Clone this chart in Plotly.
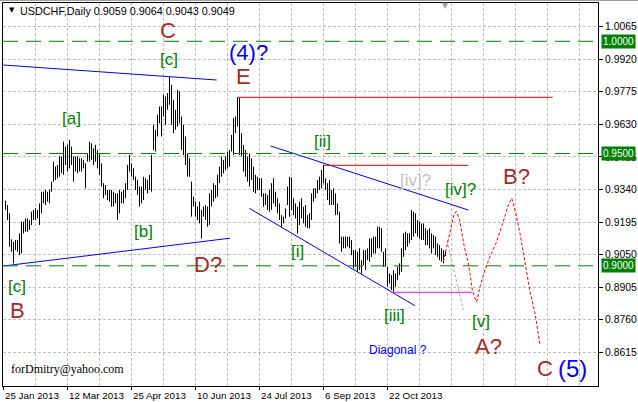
import plotly.graph_objects as go

# ---------------- data ----------------
symbol_header = "USDCHF,Daily 0.9059 0.9064 0.9043 0.9049"

highs = [
    .9290, .9271, .9234, .9118, .9107, .9115, .9115, .9145, .9197, .9197,
    .9211, .9211, .9204, .9241, .9249, .9256, .9249, .9278, .9330, .9330,
    .9338, .9330, .9338, .9375, .9464, .9442, .9449, .9487, .9487, .9553,
    .9531, .9539, .9561, .9531, .9487, .9487, .9487, .9479, .9479, .9472,
    .9457, .9501, .9553, .9546, .9524, .9539, .9516, .9501, .9457, .9368,
    .9360, .9338, .9338, .9338,
    .9330, .9323, .9323, .9338, .9330, .9338, .9368, .9449, .9494, .9457,
    .9435, .9397, .9383, .9353, .9353, .9397, .9390, .9383, .9405, .9494,
    .9628, .9606, .9673, .9710, .9710, .9762, .9754, .9769, .9841, .9806,
    .9739, .9695, .9784, .9777, .9665, .9628, .9576, .9501, .9479, .9375,
    .9308, .9286, .9264, .9286, .9249, .9264, .9271, .9264, .9323, .9338,
    .9368, .9360, .9405, .9442, .9487, .9472,
    .9487, .9509, .9516, .9583, .9658, .9665, .9751, .9747, .9591, .9538,
    .9516, .9487, .9501, .9479, .9442, .9405, .9397, .9390, .9390, .9323,
    .9323, .9316, .9338, .9368, .9390, .9330, .9301, .9278, .9226, .9219,
    .9256, .9353, .9397, .9394, .9301, .9278, .9263, .9286, .9301, .9263,
    .9271, .9226, .9234, .9323, .9345, .9345, .9382, .9397, .9427, .9449,
    .9390, .9368, .9382, .9338, .9345,
    .9323, .9278, .9241, .9130, .9130, .9130, .9130, .9130, .9115, .9070,
    .9070, .9063, .9078, .9025, .9070, .9070, .9078, .9122, .9122, .9130,
    .9130, .9174, .9174, .9167, .9063, .9078, .8996, .8966, .8959, .8981,
    .8966, .8996, .9011, .9078, .9145, .9152, .9145, .9145, .9249, .9241,
    .9234, .9204, .9197, .9189, .9189, .9167, .9159, .9167, .9145, .9137,
    .9130, .9100, .9092, .9078, .9070, .9064,
]
lows = [
    .9249, .9204, .9085, .9063, .9011, .9070, .9063, .9048, .9055, .9145,
    .9152, .9152, .9159, .9182, .9204, .9204, .9211, .9182, .9234, .9278,
    .9271, .9286, .9278, .9330, .9375, .9382, .9390, .9397, .9412, .9405,
    .9449, .9420, .9434, .9449, .9375, .9420, .9412, .9420, .9420, .9434,
    .9345, .9464, .9464, .9472, .9449, .9464, .9434, .9405, .9353, .9301,
    .9315, .9293, .9286, .9263,
    .9264, .9278, .9204, .9234, .9278, .9278, .9301, .9338, .9420, .9397,
    .9383, .9338, .9316, .9264, .9278, .9293, .9338, .9323, .9338, .9330,
    .9516, .9509, .9576, .9635, .9576, .9665, .9628, .9695, .9717, .9628,
    .9591, .9606, .9620, .9635, .9516, .9494, .9449, .9397, .9397, .9219,
    .9264, .9219, .9204, .9189, .9122, .9219, .9204, .9174, .9182, .9264,
    .9286, .9301, .9308, .9368, .9397, .9412,
    .9427, .9434, .9442, .9509, .9494, .9591, .9620, .9494, .9487, .9420,
    .9397, .9375, .9353, .9382, .9330, .9323, .9338, .9338, .9308, .9263,
    .9271, .9249, .9241, .9249, .9278, .9263, .9234, .9204, .9174, .9189,
    .9211, .9271, .9219, .9249, .9226, .9211, .9144, .9182, .9211, .9189,
    .9174, .9167, .9167, .9204, .9286, .9301, .9323, .9338, .9345, .9368,
    .9338, .9293, .9271, .9271, .9271,
    .9226, .9226, .9100, .9063, .9078, .9078, .9085, .9078, .9048, .8988,
    .8996, .8973, .8981, .8966, .9003, .8981, .9025, .9018, .9040, .9055,
    .9055, .9078, .9078, .9063, .8996, .8996, .8907, .8921, .8892, .8884,
    .8907, .8936, .8959, .8973, .9040, .9070, .9085, .9100, .9115, .9130,
    .9145, .9130, .9122, .9115, .9115, .9092, .9092, .9078, .9055, .9078,
    .9048, .9040, .9025, .9018, .9011, .9043,
]

tick_dates = ["25 Jan 2013", "12 Mar 2013", "25 Apr 2013", "10 Jun 2013",
              "24 Jul 2013", "6 Sep 2013", "22 Oct 2013"]
price_ticks = [1.0065, 0.9920, 0.9775, 0.9630, 0.9485, 0.9340, 0.9195,
               0.9050, 0.8905, 0.8760, 0.8615]
levels = [1.0000, 0.9500, 0.9000]

# drawn objects (bar index, price)
wedge_top_x = [-1.1, 105.6];    wedge_top_y = [0.98944, 0.98276]
wedge_bot_x = [-1.1, 112.25];   wedge_bot_y = [0.89993, 0.91231]
chan_top_x = [132.6, 231.4];    chan_top_y = [0.95337, 0.92487]
chan_bot_x = [121.9, 204.75];   chan_bot_y = [0.92563, 0.88225]
e_line_x = [116, 273.6];        e_line_y = [0.97506, 0.97506]
ii_line_x = [158.9, 231.4];     ii_line_y = [0.94478, 0.94478]
iii_line_x = [193.1, 233.1];    iii_line_y = [0.88822, 0.88822]
fc_x = [218.9, 221.1, 223.1, 224.4, 225.6, 227.25, 229.4, 231.1, 232.25, 233.4,
        234.75, 235.6, 237.25, 239.75, 242.25, 245.6, 248.9, 251.4, 253.1,
        254.75, 257.25, 259.4, 262.25, 264.75, 267.25]
fc_y = [0.9018, 0.9108, 0.9190, 0.9234, 0.9241, 0.9197, 0.9085, 0.9026, 0.8967,
        0.8892, 0.8856, 0.8840, 0.8907, 0.8982, 0.9041, 0.9108, 0.9197, 0.9271,
        0.9301, 0.9249, 0.9145, 0.9026, 0.8885, 0.8789, 0.8648]
alt_x = [220.75, 223.1, 225.6, 227.25, 228.9]
alt_y = [0.9115, 0.9026, 0.8922, 0.8863, 0.8803]

# ---------------- figure ----------------
FONT = "Liberation Sans"
BROWN = "#a52a2a"
GREEN = "#008000"
BLUE = "#0000ff"
GRID = "#c0c0c0"

fig = go.Figure()

bx, by = [], []
for i, (h, l) in enumerate(zip(highs, lows)):
    bx += [i, i, None]
    by += [l, h, None]
fig.add_trace(go.Scatter(x=bx, y=by, mode="lines",
                         line=dict(color="black", width=1), hoverinfo="skip"))

for xs, ys, col, dash in [
    (wedge_top_x, wedge_top_y, BLUE, "solid"),
    (wedge_bot_x, wedge_bot_y, BLUE, "solid"),
    (chan_top_x, chan_top_y, BLUE, "solid"),
    (chan_bot_x, chan_bot_y, BLUE, "solid"),
    (e_line_x, e_line_y, "#e00000", "solid"),
    (ii_line_x, ii_line_y, "#e00000", "solid"),
    (iii_line_x, iii_line_y, "#ff00ff", "solid"),
    (alt_x, alt_y, "#a8a8a8", "3px,2px"),
    (fc_x, fc_y, "#ff0000", "3px,2px"),
]:
    fig.add_trace(go.Scatter(x=xs, y=ys, mode="lines",
                             line=dict(color=col, width=1, dash=dash),
                             hoverinfo="skip"))

for lv in levels:
    fig.add_shape(type="line", xref="paper", x0=0, x1=1, yref="y", y0=lv, y1=lv,
                  line=dict(color=GREEN, width=1, dash="15px,8px"), layer="above")
    fig.add_annotation(xref="paper", x=1.005, yref="y", y=lv, text=f"{lv:.4f}",
                       showarrow=False, xanchor="left", yanchor="middle",
                       bgcolor=GREEN, borderpad=1,
                       font=dict(family=FONT, size=10, color="white"))

labels = [
    ("C", 81, 1.0050, BROWN, 22),
    ("[c]", 81.75, 0.9921, GREEN, 17),
    ("(4)?", 121.25, 0.9952, BLUE, 22),
    ("E", 118.75, 0.9841, BROWN, 22),
    ("[a]", 32.75, 0.9654, GREEN, 17),
    ("[b]", 68.75, 0.9155, GREEN, 17),
    ("[c]", 5.5, 0.8910, GREEN, 17),
    ("B", 5.75, 0.8799, BROWN, 22),
    ("D?", 101.25, 0.9004, BROWN, 22),
    ("[ii]", 158.25, 0.9552, GREEN, 17),
    ("[i]", 145.75, 0.9062, GREEN, 17),
    ("[iv]?", 204.75, 0.9378, "#c0c0c0", 17),
    ("[iv]?", 227.25, 0.9342, GREEN, 17),
    ("B?", 255.25, 0.9396, BROWN, 22),
    ("[iii]", 194.25, 0.8777, GREEN, 17),
    ("Diagonal ?", 196.25, 0.8625, BLUE, 12),
    ("[v]", 237.75, 0.8754, GREEN, 17),
    ("A?", 241.25, 0.8643, BROWN, 22),
    ("C", 269.75, 0.8545, BROWN, 22),
    ("(5)", 283.25, 0.8545, BLUE, 24),
]
for txt, lx, ly, col, sz in labels:
    fig.add_annotation(x=lx, y=ly, text=txt, showarrow=False,
                       xanchor="center", yanchor="middle",
                       font=dict(family=FONT, size=sz, color=col))

fig.add_annotation(x=30.75, y=0.8541, text="forDmitry@yahoo.com", showarrow=False,
                   xanchor="center", yanchor="middle",
                   font=dict(family="Liberation Serif", size=12, color="black"))

# date labels, left-aligned at their tick marks just under the frame
date_pos = [32 * k - 1 for k in range(len(tick_dates))]
for d, xpos in zip(tick_dates, date_pos):
    fig.add_annotation(x=xpos, xref="x", y=-0.024, yref="paper", text=d,
                       showarrow=False, xanchor="left", yanchor="middle",
                       xshift=-1,
                       font=dict(family=FONT, size=9.8, color="black"))

fig.add_annotation(xref="paper", yref="paper", x=0.007, y=0.981, text="▼",
                   showarrow=False, xanchor="left", yanchor="middle",
                   font=dict(family="DejaVu Sans", size=7, color="black"))
fig.add_annotation(xref="paper", yref="paper", x=0.025, y=0.979, text=symbol_header,
                   showarrow=False, xanchor="left", yanchor="middle",
                   font=dict(family=FONT, size=10.8, color="black"))
fig.add_annotation(xref="paper", yref="paper", x=0.743, y=0.993, text="▼",
                   showarrow=False, xanchor="center", yanchor="middle",
                   font=dict(family="DejaVu Sans", size=8, color="#a0a0a0"))
fig.add_shape(type="line", xref="paper", yref="paper", x0=-0.01, x1=1.07,
              y0=1.0065, y1=1.0065, line=dict(color="#a0a0a0", width=1))

n_grid = 19
fig.update_layout(
    width=638, height=402,
    margin=dict(l=3, r=40, t=3, b=16, pad=0),
    paper_bgcolor="white", plot_bgcolor="white",
    showlegend=False,
    xaxis=dict(
        range=[-1.25, 296.25], showline=True, mirror=True, linecolor="black",
        linewidth=1, ticks="outside", ticklen=3, tickcolor="black",
        tickmode="array", tickvals=date_pos, showticklabels=False,
        showgrid=True, gridcolor=GRID, griddash="3px,2px", gridwidth=1,
        zeroline=False, automargin=False,
        minor=dict(tickmode="array", tickvals=[16 * k - 1 for k in range(n_grid)],
                   showgrid=True, gridcolor=GRID, griddash="3px,2px",
                   gridwidth=1, ticks=""),
    ),
    yaxis=dict(
        range=[0.84649, 1.01705], side="right", showline=True, mirror=True,
        linecolor="black", linewidth=1, ticks="outside", ticklen=4,
        tickcolor="black", tickmode="array", tickvals=price_ticks,
        ticktext=[f"{v:.4f}" for v in price_ticks],
        tickfont=dict(family=FONT, size=10.4, color="black"),
        showgrid=True, gridcolor=GRID, griddash="3px,2px", gridwidth=1,
        zeroline=False, automargin=False,
    ),
)

fig.write_html(
    "out.html",
    config={"displayModeBar": False},
    post_script="document.body.style.margin='0';document.body.style.overflow='hidden';",
)
